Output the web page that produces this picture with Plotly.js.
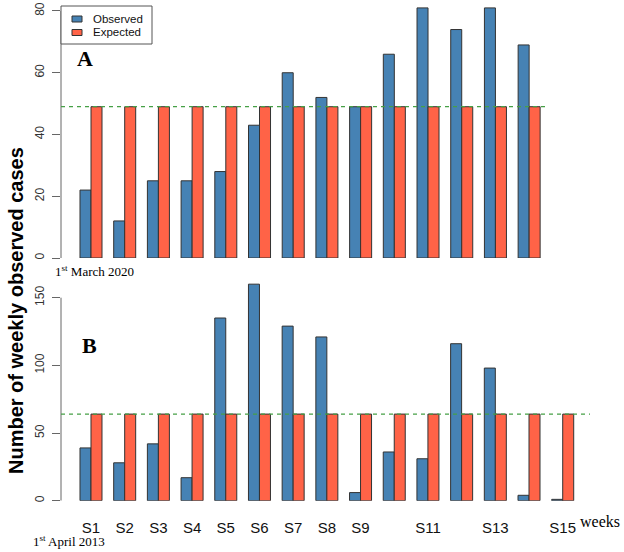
<!DOCTYPE html>
<html>
<head>
<meta charset="utf-8">
<script src="https://cdn.plot.ly/plotly-3.0.1.min.js"></script>
<style>html,body{margin:0;padding:0;background:#fff;} #chart{width:624px;height:552px;}</style>
</head>
<body>
<div id="chart"></div>
<script>
// ---- data ----
const weeks = ['S1','S2','S3','S4','S5','S6','S7','S8','S9','S10','S11','S12','S13','S14','S15'];
const weekLabels = ['S1','S2','S3','S4','S5','S6','S7','S8','S9','','S11','','S13','','S15'];
const weeksA = ['S1','S2','S3','S4','S5','S6','S7','S8','S9','S10','S11','S12','S13','S14'];
const seriesNames = ['Observed', 'Expected'];
const observedA = [22, 12, 25, 25, 28, 43, 60, 52, 49, 66, 81, 74, 81, 69];
const expectedA = [49, 49, 49, 49, 49, 49, 49, 49, 49, 49, 49, 49, 49, 49];
const observedB = [39, 28, 42, 17, 135, 160, 129, 121, 6, 36, 31, 116, 98, 4, 1];
const expectedB = [64, 64, 64, 64, 64, 64, 64, 64, 64, 64, 64, 64, 64, 64, 64];
const ticksA = [0, 20, 40, 60, 80];
const ticksB = [0, 50, 100, 150];

const blue = '#4682B4', red = '#FF6347', edge = '#333333', green = '#46a046';
const colors = [blue, red];
const W = 624, H = 552;
const px = v => v / W, py = v => 1 - v / H;

// only weeks that carry a visible label get a tick
const shownTickVals = weeks.filter((w, i) => weekLabels[i] !== '');
const shownTickText = weekLabels.filter(l => l !== '');

const traces = [
  {type:'bar', name:seriesNames[0], x:weeksA, y:observedA, xaxis:'x', yaxis:'y',
   marker:{color:blue, line:{color:edge, width:1}}},
  {type:'bar', name:seriesNames[1], x:weeksA, y:expectedA, xaxis:'x', yaxis:'y',
   marker:{color:red, line:{color:edge, width:1}}},
  {type:'bar', name:seriesNames[0], x:weeks, y:observedB, xaxis:'x2', yaxis:'y2',
   marker:{color:blue, line:{color:edge, width:1}}},
  {type:'bar', name:seriesNames[1], x:weeks, y:expectedB, xaxis:'x2', yaxis:'y2',
   marker:{color:red, line:{color:edge, width:1}}}
];

const yCommon = {
  showgrid:false, zeroline:false, showline:false,
  ticks:'outside', ticklen:8, tickcolor:'#666', tickwidth:1,
  tickangle:-90, ticklabelstandoff:3,
  tickfont:{family:'Liberation Sans, Arial, sans-serif', size:12, color:'#333'}
};

// legend (drawn as a box with swatches, like R's legend())
const legendShapes = [
  {type:'rect', xref:'paper', yref:'paper', x0:px(61), x1:px(152), y0:py(44), y1:py(6),
   fillcolor:'#fff', line:{color:'#555', width:1}, layer:'above'}
];
const legendAnn = [];
seriesNames.forEach((n, i) => {
  const cy = 19 + i * 13.5;
  legendShapes.push({type:'rect', xref:'paper', yref:'paper', x0:px(72), x1:px(82),
    y0:py(cy + 3), y1:py(cy - 3), fillcolor:colors[i], line:{color:edge, width:1}, layer:'above'});
  legendAnn.push({text:n, xref:'paper', yref:'paper', x:px(92), y:py(cy), xanchor:'left', yanchor:'middle',
    borderpad:0, showarrow:false,
    font:{family:'Liberation Sans, Arial, sans-serif', size:11.5, color:'#111'}});
});

const layout = {
  width:W, height:H,
  margin:{l:0, r:0, t:0, b:0},
  paper_bgcolor:'#fff', plot_bgcolor:'rgba(0,0,0,0)',
  barmode:'group', bargap:0.347, bargroupgap:0,
  showlegend:false,
  xaxis:{domain:[px(61), px(547)], range:[-0.89, 13.53], type:'category',
         categoryorder:'array', categoryarray:weeks, anchor:'y',
         showticklabels:false, ticks:'', showgrid:false, zeroline:false, showline:false},
  xaxis2:{domain:[px(61), px(590)], range:[-0.89, 14.81], type:'category',
          categoryorder:'array', categoryarray:weeks, anchor:'y2',
          tickmode:'array', tickvals:shownTickVals, ticktext:shownTickText,
          ticks:'', ticklabelstandoff:16, showgrid:false, zeroline:false, showline:false,
          tickfont:{family:'Liberation Sans, Arial, sans-serif', size:15, color:'#111'}},
  yaxis:Object.assign({}, yCommon, {domain:[py(258), py(5)], range:[0, 81.94],
         tickmode:'array', tickvals:ticksA, anchor:'x'}),
  yaxis2:Object.assign({}, yCommon, {domain:[py(500.7), py(282)], range:[0, 161.6],
         tickmode:'array', tickvals:ticksB, anchor:'x2'}),
  shapes:[
    {type:'line', xref:'x domain', yref:'y', x0:0, x1:0, y0:ticksA[0], y1:ticksA[ticksA.length-1],
     line:{color:'#666', width:1}},
    {type:'line', xref:'x2 domain', yref:'y2', x0:0, x1:0, y0:ticksB[0], y1:ticksB[ticksB.length-1],
     line:{color:'#666', width:1}},
    {type:'line', xref:'x domain', yref:'y', x0:0, x1:1, y0:expectedA[0], y1:expectedA[0],
     line:{color:green, width:1.2, dash:'4px,4px'}},
    {type:'line', xref:'x2 domain', yref:'y2', x0:0, x1:1, y0:expectedB[0], y1:expectedB[0],
     line:{color:green, width:1.2, dash:'4px,4px'}}
  ].concat(legendShapes),
  annotations:[
    {text:'<b>A</b>', xref:'paper', yref:'paper', x:px(85), y:py(58), xanchor:'center', yanchor:'middle',
     showarrow:false, font:{family:'Liberation Serif, Times New Roman, serif', size:22, color:'#000'}},
    {text:'<b>B</b>', xref:'paper', yref:'paper', x:px(89), y:py(345), xanchor:'center', yanchor:'middle',
     showarrow:false, font:{family:'Liberation Serif, Times New Roman, serif', size:22, color:'#000'}},
    {text:'1<sup>st</sup> March 2020', xref:'paper', yref:'paper', x:px(53), y:py(271),
     xanchor:'left', yanchor:'middle', showarrow:false,
     font:{family:'Liberation Serif, Times New Roman, serif', size:13, color:'#000'}},
    {text:'1<sup>st</sup> April 2013', xref:'paper', yref:'paper', x:px(31), y:py(541),
     xanchor:'left', yanchor:'middle', showarrow:false,
     font:{family:'Liberation Serif, Times New Roman, serif', size:13, color:'#000'}},
    {text:'weeks', xref:'paper', yref:'paper', x:px(578), y:py(521),
     xanchor:'left', yanchor:'middle', showarrow:false,
     font:{family:'Liberation Serif, Times New Roman, serif', size:16, color:'#000'}},
    {text:'<b>Number of weekly observed cases</b>', xref:'paper', yref:'paper', x:px(16), y:py(311),
     xanchor:'center', yanchor:'middle', textangle:-90, showarrow:false,
     font:{family:'Liberation Sans, Arial, sans-serif', size:20, color:'#000'}}
  ].concat(legendAnn)
};

Plotly.newPlot('chart', traces, layout, {staticPlot:true, displayModeBar:false});
</script>
</body>
</html>
